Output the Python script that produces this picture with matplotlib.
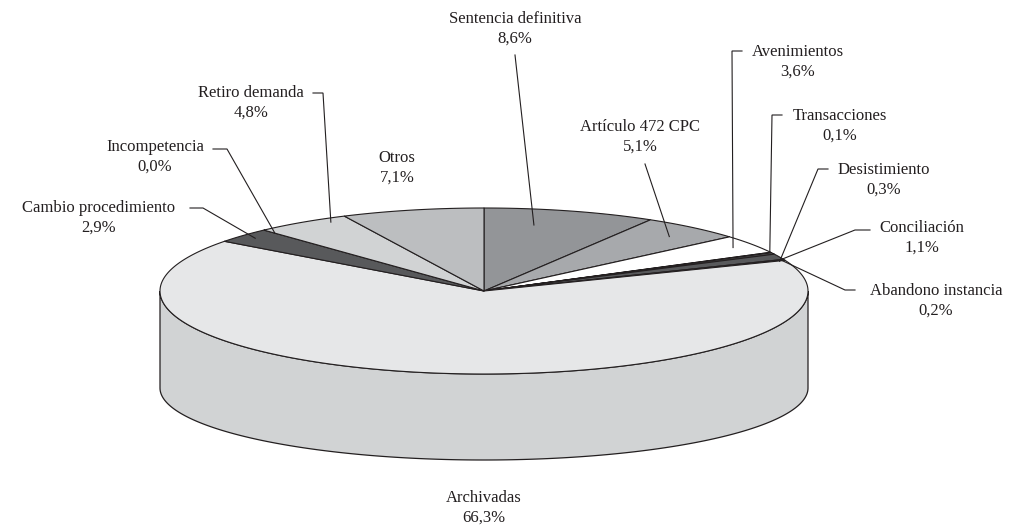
import numpy as np
import matplotlib
matplotlib.use("Agg")
import matplotlib.pyplot as plt
from matplotlib.patches import Polygon

# ---- data ----
categories = ["Sentencia definitiva", "Artículo 472 CPC", "Avenimientos", "Transacciones",
              "Desistimiento", "Conciliación", "Abandono instancia", "Archivadas",
              "Cambio procedimiento", "Incompetencia", "Retiro demanda", "Otros"]
values = [8.6, 5.1, 3.6, 0.1, 0.3, 1.1, 0.2, 66.3, 2.9, 0.0, 4.8, 7.1]
value_labels = ["8,6%", "5,1%", "3,6%", "0,1%", "0,3%", "1,1%", "0,2%", "66,3%",
                "2,9%", "0,0%", "4,8%", "7,1%"]

# ---- styles ----
top_colors = ["#939598", "#a7a9ac", "#ffffff", "#58595b", "#58595b", "#58595b", "#6d6e71",
              "#e6e7e8", "#58595b", "#58595b", "#d1d3d4", "#bcbec0"]
side_color = "#d1d3d4"
edge = "#231f20"
text_color = "#231f20"

# ---- geometry (pixels) ----
W, H = 1017, 529
cx, cy, rx, ry = 484, 291, 324, 83
bcy, bry = 388, 72

# label layout: text centre x, first-line y, leader start (x,y), optional tick end x, anchor angle offset, anchor radius frac
layout = {
    "Sentencia definitiva": dict(tx=515, ty=18, start=(515, 55), tick=None, dth=-4.5, f=0.81),
    "Artículo 472 CPC": dict(tx=640, ty=126, start=(645, 164), tick=None, dth=1.0, f=0.87),
    "Avenimientos": dict(tx=798, ty=51, start=(742, 51), tick=732, dth=0.0, f=0.93),
    "Transacciones": dict(tx=840, ty=115, start=(782, 115), tick=772, dth=-0.5, f=1.0),
    "Desistimiento": dict(tx=884, ty=169, start=(828, 169), tick=818, dth=5.5, f=0.98),
    "Conciliación": dict(tx=922, ty=227, start=(870, 230), tick=855, dth=2.0, f=0.99),
    "Abandono instancia": dict(tx=936, ty=290, start=(855, 290), tick=845, dth=0.0, f=0.99),
    "Archivadas": dict(tx=484, ty=497, start=None, tick=None, dth=0, f=0),
    "Cambio procedimiento": dict(tx=99, ty=207, start=(190, 208), tick=203, dth=0.0, f=0.95),
    "Incompetencia": dict(tx=155, ty=146, start=(213, 149), tick=227, dth=0.0, f=0.95),
    "Retiro demanda": dict(tx=251, ty=92, start=(313, 93), tick=323, dth=4.5, f=0.955),
    "Otros": dict(tx=397, ty=157, start=None, tick=None, dth=0, f=0),
}

plt.rcParams['font.family'] = ['Liberation Serif', 'DejaVu Serif']

fig = plt.figure(figsize=(W / 100, H / 100), dpi=100)
ax = fig.add_axes([0, 0, 1, 1])
ax.set_xlim(0, W)
ax.set_ylim(H, 0)
ax.axis("off")


def arc(t0, t1, ccx, ccy, rrx, rry, n=200):
    t = np.radians(np.linspace(t0, t1, n))
    return np.column_stack([ccx + rrx * np.sin(t), ccy - rry * np.cos(t)])


total = sum(values)
angles = np.concatenate([[0], np.cumsum(values) / total * 360.0])

# side (front half of Archivadas)
side = np.vstack([arc(90, 270, cx, cy, rx, ry), arc(270, 90, cx, bcy, rx, bry)])
ax.add_patch(Polygon(side, closed=True, facecolor=side_color, edgecolor=edge, lw=0.9, zorder=1))

# top slices
for i, v in enumerate(values):
    a0, a1 = angles[i], angles[i + 1]
    if a1 - a0 <= 0:
        continue
    pts = np.vstack([[cx, cy], arc(a0, a1, cx, cy, rx, ry, n=max(4, int((a1 - a0) * 2)))])
    ax.add_patch(Polygon(pts, closed=True, facecolor=top_colors[i], edgecolor=edge,
                         lw=0.8, joinstyle="round", zorder=2 + i * 0.01))

# labels and leaders
for i, name in enumerate(categories):
    L = layout[name]
    ax.text(L["tx"], L["ty"] + 11, f"{name}\n{value_labels[i]}", ha="center", va="center",
            fontsize=12, color=text_color, linespacing=1.35, zorder=5)
    if L["start"] is None:
        continue
    mid = (angles[i] + angles[i + 1]) / 2 + L["dth"]
    t = np.radians(mid)
    axp = cx + L["f"] * rx * np.sin(t)
    ayp = cy - L["f"] * ry * np.cos(t)
    sx, sy = L["start"]
    if L["tick"] is not None:
        xs = [sx, L["tick"], axp]
        ys = [sy, sy, ayp]
    else:
        xs = [sx, axp]
        ys = [sy, ayp]
    ax.plot(xs, ys, color=edge, lw=0.8, zorder=6, solid_joinstyle="miter")

fig.savefig("out.png", dpi=100)
